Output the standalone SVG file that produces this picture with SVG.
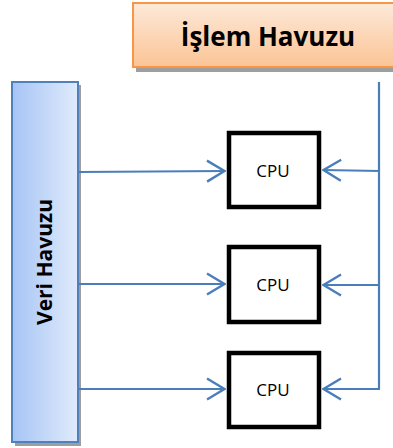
<svg xmlns="http://www.w3.org/2000/svg" width="393" height="448" viewBox="0 0 393 448">
  <defs>
    <linearGradient id="gOrange" x1="0" y1="0" x2="0" y2="1">
      <stop offset="0" stop-color="#fde9d9"/>
      <stop offset="1" stop-color="#fbc495"/>
    </linearGradient>
    <linearGradient id="gBlue" x1="0" y1="0" x2="1" y2="0">
      <stop offset="0" stop-color="#a6c4f5"/>
      <stop offset="1" stop-color="#e0ebfb"/>
    </linearGradient>
    <marker id="arrow" markerWidth="20" markerHeight="24" refX="19" refY="12" orient="auto" markerUnits="userSpaceOnUse" viewBox="0 0 20 24">
      <path d="M1,1.5 L18.5,12 L1,22.5" fill="none" stroke="#4a7ebb" stroke-width="2.4"/>
    </marker>
    <style>
      .link { stroke: #4a7ebb; stroke-width: 2.2; fill: none; }
      .cpu rect { fill: #ffffff; stroke: #000000; stroke-width: 4.5; }
      .cpu text { font-family: "Open Sans", "Liberation Sans", sans-serif; font-size: 17px; fill: #000; text-anchor: middle; }
      .pool-label { font-family: "Open Sans", "Liberation Sans", sans-serif; font-weight: bold; fill: #000; text-anchor: middle; }
      .shadow { fill: #9e9e9e; }
    </style>
  </defs>

  <rect width="393" height="448" fill="#ffffff"/>

  <!-- Process pool header -->
  <g id="islem-havuzu">
    <rect class="shadow" x="136" y="6" width="262" height="66"/>
    <rect x="133" y="3" width="262" height="64" fill="url(#gOrange)" stroke="#f79646" stroke-width="2"/>
    <text class="pool-label" x="268" y="46" font-size="26">İşlem Havuzu</text>
  </g>

  <!-- Data pool bar -->
  <g id="veri-havuzu">
    <rect class="shadow" x="15" y="85" width="66" height="361"/>
    <rect x="12" y="82" width="66" height="360" fill="url(#gBlue)" stroke="#4f81bd" stroke-width="2"/>
    <text class="pool-label" x="0" y="0" font-size="21" transform="translate(52 262) rotate(-90)">Veri Havuzu</text>
  </g>

  <!-- Processing units -->
  <g id="cpu1" class="cpu">
    <rect x="229" y="133" width="90" height="74"/>
    <text x="273" y="177">CPU</text>
  </g>
  <g id="cpu2" class="cpu">
    <rect x="229" y="247" width="90" height="75"/>
    <text x="273" y="291">CPU</text>
  </g>
  <g id="cpu3" class="cpu">
    <rect x="229" y="353" width="90" height="74"/>
    <text x="273" y="396">CPU</text>
  </g>

  <!-- Connectors -->
  <g id="connectors">
    <path class="link" d="M379,82 L379,389"/>
    <path class="link" d="M79,172 L225,171" marker-end="url(#arrow)"/>
    <path class="link" d="M79,284 L225,284" marker-end="url(#arrow)"/>
    <path class="link" d="M79,389 L225,389" marker-end="url(#arrow)"/>
    <path class="link" d="M380,171 L323,170" marker-end="url(#arrow)"/>
    <path class="link" d="M380,285 L323,285" marker-end="url(#arrow)"/>
    <path class="link" d="M380,389 L323,389" marker-end="url(#arrow)"/>
  </g>
</svg>
